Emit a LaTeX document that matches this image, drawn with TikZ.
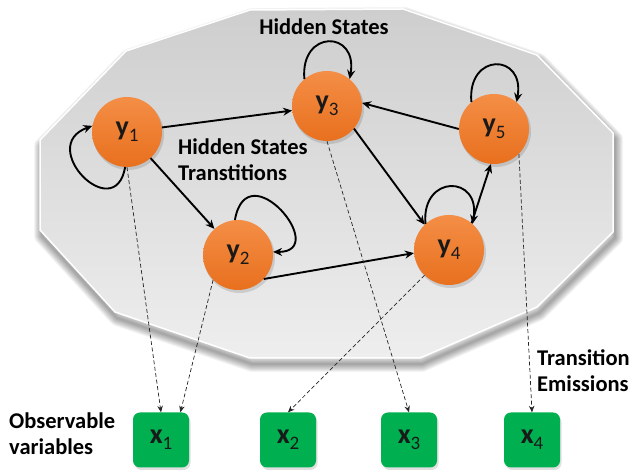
\documentclass[tikz,border=0pt]{standalone}
\usepackage{fontspec}
\setmainfont{Carlito}
\usetikzlibrary{arrows.meta}
\definecolor{orTop}{RGB}{244,142,70}
\definecolor{orBot}{RGB}{232,112,30}
\definecolor{grnBox}{RGB}{0,176,80}
\definecolor{polyTop}{RGB}{206,206,206}
\definecolor{polyBot}{RGB}{238,238,238}
\newcommand\polyg{(40,330) -- (40,240) -- (115,158) -- (250,112) -- (420,112) -- (537,163) -- (613,238) -- (613,337) -- (537,415) -- (403,461) -- (250,460) -- (126,419) -- cycle}
\newcommand\ylab[2]{{\fontsize{28}{28}\selectfont\bfseries #1}\raisebox{-6pt}{\fontsize{19}{19}\selectfont #2}}
\begin{document}
\begin{tikzpicture}[x=1pt,y=1pt,
  state/.style={circle, minimum size=70pt, inner sep=0pt, top color=orTop, bottom color=orBot, draw=none, text=black!90},
  obs/.style={rectangle, rounded corners=7pt, minimum width=56pt, minimum height=55pt, fill=grnBox, inner sep=0pt, text=black!90},
  trans/.style={-{Stealth[length=9pt,width=8pt]}, line width=1.9pt, draw=black},
  emit/.style={-{Stealth[length=6.5pt,width=5.5pt]}, line width=0.7pt, dash pattern=on 4pt off 2.5pt, draw=black!85},
  lbl/.style={font=\fontsize{22.5}{26}\selectfont\bfseries, inner sep=0pt, text=black, align=left},
]
\useasboundingbox (0,0) rectangle (632,470);
\fill[white] (0,0) rectangle (632,470);
% shadow of the polygon
\foreach \i in {1,...,10} {
  \draw[black, opacity=0.04, line width=1.6*\i pt, line join=round, shift={(2,-6)}] \polyg;
}
\shade[top color=polyTop, bottom color=polyBot] \polyg;
\draw[white, line width=1.5pt, line join=round] \polyg;

% circle shadows
\foreach \p in {(127,338),(327,364),(494,341),(238,215),(449,220)} {
  \fill[black, opacity=0.12] \p ++(1.5,-2.5) circle (35.5);
}
% box shadows
\foreach \p in {(161,30),(288,30),(409,30),(532,30)} {
  \fill[black, opacity=0.12, rounded corners=7pt] \p ++(-26.5,-30) rectangle ++(56,55);
}

\node[state] (y1) at (127,338) {\ylab{y}{1}};
\node[state] (y3) at (327,364) {\ylab{y}{3}};
\node[state] (y5) at (494,341) {\ylab{y}{5}};
\node[state] (y2) at (238,215) {\ylab{y}{2}};
\node[state] (y4) at (449,220) {\ylab{y}{4}};

\node[obs] (x1) at (161,30) {\ylab{x}{1}};
\node[obs] (x2) at (288,30) {\ylab{x}{2}};
\node[obs] (x3) at (409,30) {\ylab{x}{3}};
\node[obs] (x4) at (532,30) {\ylab{x}{4}};

% transitions
\draw[trans] (y1) -- (y3);
\draw[trans] (y1) -- (y2);
\draw[trans] (y2.-43) -- (y4.185);
\draw[trans] (y3.-40) -- (y4.134);
\draw[trans] (y5.west) -- (y3.5);
\draw[trans] (y4.50) -- (y5.-95);

% self loops
\draw[trans] (y1.-93) .. controls +(-100:60) and +(200:60) .. (y1.170);
\draw[trans] (y3.130) .. controls +(95:50) and +(80:50) .. (y3.50);
\draw[trans] (y5.130) .. controls +(95:50) and +(80:50) .. (y5.50);
\draw[trans] (y4.132) .. controls +(95:50) and +(80:50) .. (y4.48);
\draw[trans] (y2.95) .. controls +(80:70) and +(0:58) .. (y2.5);

% emissions
\draw[emit] (y1.-90) -- (x1.north);
\draw[emit] (y2.-135) -- (x1.55);
\draw[emit] (y4.-134) -- (x2.north);
\draw[emit] (y3.-90) -- (x3.north);
\draw[emit] (y5.-45) -- (x4.north);

% labels
\node[lbl, anchor=base] (hs) at (324,435) {Hidden States};
\node[lbl, anchor=west] (hst) at (178,310) {Hidden States\\Transtitions};
\node[lbl, anchor=west] (te) at (537,99) {Transition\\Emissions};
\node[lbl, anchor=west] (ov) at (9,36) {Observable\\variables};
\end{tikzpicture}
\end{document}
